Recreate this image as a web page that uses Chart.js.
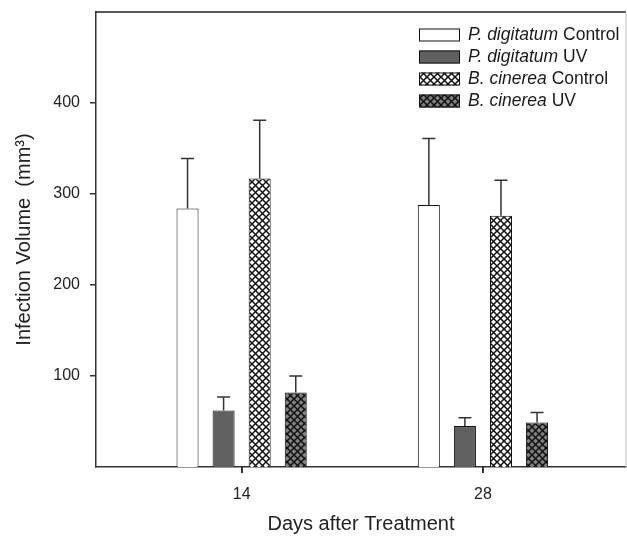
<!DOCTYPE html>
<html>
<head>
<meta charset="utf-8">
<script src="https://cdn.jsdelivr.net/npm/chart.js@4.4.1/dist/chart.umd.min.js"></script>
<style>
  body { margin: 0; background: #fff; }
  canvas { display: block; }
</style>
</head>
<body>
<canvas id="chart" width="627" height="542"></canvas>
<script>
// Data
const days = [14, 28];
const pdControl = [284, 288];
const pdControlErr = [55, 73];
const pdUV = [62, 45];
const pdUVErr = [15, 9];
const bcControl = [317, 276];
const bcControlErr = [64, 39];
const bcUV = [82, 49];
const bcUVErr = [18, 11];
const yTicks = [100, 200, 300, 400];
const species = ['P. digitatum', 'P. digitatum', 'B. cinerea', 'B. cinerea'];
const treatments = ['Control', 'UV', 'Control', 'UV'];

const FONT = "'Liberation Sans', Arial, sans-serif";

// Crosshatch pattern
function hatch(bg) {
    const s = 7;
    const c = document.createElement('canvas');
    c.width = s; c.height = s;
    const g = c.getContext('2d');
    g.fillStyle = bg;
    g.fillRect(0, 0, s, s);
    g.strokeStyle = '#111';
    g.lineWidth = 1.5;
    for (let k = -1; k <= 1; k++) {
        g.beginPath();
        g.moveTo(k * s, 0); g.lineTo(k * s + s, s);
        g.moveTo(k * s, s); g.lineTo(k * s + s, 0);
        g.stroke();
    }
    return g.createPattern(c, 'repeat');
}

const fills = ['#ffffff', '#606060', hatch('#ffffff'), hatch('#808080')];
const values = [pdControl, pdUV, bcControl, bcUV];
const errors = [pdControlErr, pdUVErr, bcControlErr, bcUVErr];

const toPoints = vals => days.map((d, i) => ({ x: d, y: vals[i] }));

const datasets = values.map((vals, i) => ({
    label: species[i] + ' ' + treatments[i],
    data: toPoints(vals),
    errors: errors[i],
    backgroundColor: fills[i],
    borderColor: '#111',
    borderWidth: 1,
    categoryPercentage: 0.598,
    barPercentage: 0.61
}));

// Upward error bars with caps
const errorBars = {
    id: 'errorBars',
    afterDatasetsDraw(chart) {
        const ctx = chart.ctx;
        const y = chart.scales.y;
        ctx.save();
        ctx.strokeStyle = '#333';
        ctx.lineWidth = 1.5;
        chart.data.datasets.forEach((ds, i) => {
            const meta = chart.getDatasetMeta(i);
            meta.data.forEach((bar, j) => {
                const top = y.getPixelForValue(ds.data[j].y + ds.errors[j]);
                ctx.beginPath();
                ctx.moveTo(bar.x, bar.y);
                ctx.lineTo(bar.x, top);
                ctx.moveTo(bar.x - 6.5, top);
                ctx.lineTo(bar.x + 6.5, top);
                ctx.stroke();
            });
        });
        ctx.restore();
    }
};

// Frame on top and right, plus x tick marks
const frame = {
    id: 'frame',
    beforeDatasetsDraw(chart) {
        const { ctx, chartArea: a } = chart;
        const x = chart.scales.x;
        ctx.save();
        ctx.strokeStyle = '#222';
        ctx.lineWidth = 1.5;
        ctx.beginPath();
        ctx.moveTo(a.left, a.top);
        ctx.lineTo(a.right, a.top);
        days.forEach(d => {
            const px = Math.round(x.getPixelForValue(d));
            ctx.moveTo(px, a.bottom);
            ctx.lineTo(px, a.bottom + 6);
        });
        ctx.stroke();
        ctx.strokeStyle = '#bbb';
        ctx.lineWidth = 1;
        ctx.beginPath();
        ctx.moveTo(a.right, a.top);
        ctx.lineTo(a.right, a.bottom);
        ctx.stroke();
        ctx.restore();
    }
};

// Legend with italic species names
const legendBox = {
    id: 'legendBox',
    afterDraw(chart) {
        const ctx = chart.ctx;
        const x0 = 419, y0 = 35, step = 22, bw = 41, bh = 13;
        ctx.save();
        chart.data.datasets.forEach((ds, i) => {
            const cy = y0 + i * step;
            ctx.fillStyle = ds.backgroundColor;
            ctx.fillRect(x0, cy - bh / 2, bw, bh);
            ctx.strokeStyle = '#111';
            ctx.lineWidth = 1;
            ctx.strokeRect(x0 + 0.5, cy - bh / 2 + 0.5, bw - 1, bh - 1);
            ctx.fillStyle = '#1a1a1a';
            ctx.textBaseline = 'middle';
            ctx.font = 'italic 17.5px ' + FONT;
            ctx.fillText(species[i], 468, cy);
            const w = ctx.measureText(species[i] + ' ').width;
            ctx.font = '17.5px ' + FONT;
            ctx.fillText(treatments[i], 468 + w, cy);
        });
        ctx.restore();
    }
};

new Chart(document.getElementById('chart'), {
    type: 'bar',
    data: { datasets },
    plugins: [frame, errorBars, legendBox],
    options: {
        responsive: false,
        devicePixelRatio: 1,
        animation: false,
        layout: { padding: { top: 12, right: 1, left: 0, bottom: 0 } },
        plugins: { legend: { display: false }, tooltip: { enabled: false } },
        scales: {
            x: {
                type: 'linear',
                offset: false,
                min: 5.55,
                max: 36.3,
                afterBuildTicks: s => { s.ticks = days.map(v => ({ value: v })); },
                afterFit: s => { s.height = 75; s.paddingLeft = 0; s.paddingRight = 0; },
                grid: { offset: false, drawOnChartArea: false, drawTicks: true, tickLength: 6, color: '#333', tickColor: '#333', lineWidth: 1.5 },
                border: { display: true, color: '#333', width: 1.5 },
                ticks: { color: '#222', padding: 12, maxRotation: 0, font: { family: FONT, size: 16 } },
                title: {
                    display: true,
                    text: 'Days after Treatment',
                    color: '#222',
                    font: { family: FONT, size: 20 },
                    padding: { top: 0, bottom: 6 }
                }
            },
            y: {
                min: 0,
                max: 500,
                afterBuildTicks: s => { s.ticks = yTicks.map(v => ({ value: v })); },
                afterFit: s => { s.width = 96; s.paddingTop = 0; s.paddingBottom = 0; },
                grid: { drawOnChartArea: false, drawTicks: true, tickLength: 6, color: '#333', lineWidth: 1.5 },
                border: { display: true, color: '#333', width: 1.5 },
                ticks: { color: '#222', padding: 10, font: { family: FONT, size: 16 } },
                title: {
                    display: true,
                    text: 'Infection Volume  (mm³)',
                    color: '#222',
                    font: { family: FONT, size: 20 },
                    padding: { top: 12, bottom: 0 }
                }
            }
        }
    }
});
</script>
</body>
</html>
